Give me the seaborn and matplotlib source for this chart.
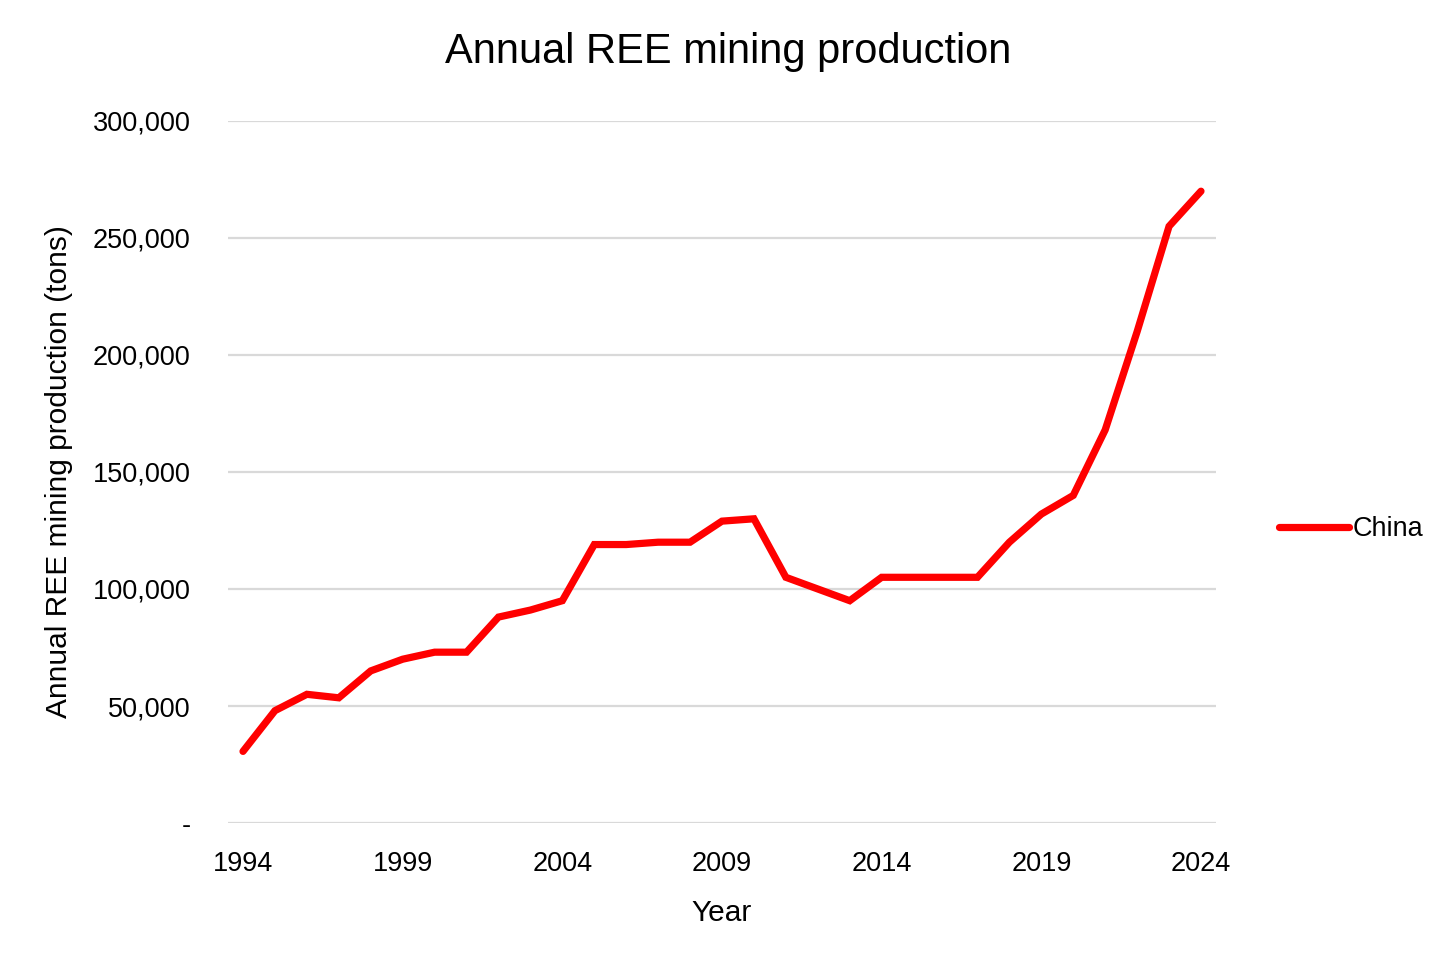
import matplotlib
matplotlib.use("Agg")
import matplotlib.pyplot as plt
import seaborn as sns
import pandas as pd
from matplotlib.ticker import FuncFormatter, MultipleLocator

years = list(range(1994, 2025))
china = [30600, 48000, 55000, 53500, 65000, 70000, 73000, 73000, 88000, 91000,
         95000, 119000, 119000, 120000, 120000, 129000, 130000, 105000, 100000, 95000,
         105000, 105000, 105000, 105000, 120000, 132000, 140000, 168000, 210000, 255000,
         270000]
series_name = "China"

df = pd.DataFrame({"Year": years, "Production": china, "Country": series_name})

sns.set_theme(style="white")
plt.rcParams['font.family'] = ['Liberation Sans', 'DejaVu Sans']
plt.rcParams['text.color'] = 'black'
plt.rcParams['axes.labelcolor'] = 'black'

fig = plt.figure(figsize=(14.56, 9.71), dpi=100)
ax = fig.add_axes([228/1456, 1-823/971, (1216-228)/1456, (823-121)/971])

sns.lineplot(data=df, x="Year", y="Production", hue="Country", palette=["#ff0000"],
             linewidth=5.2, ax=ax, solid_capstyle="round", solid_joinstyle="miter")

ax.set_xlim(1993.53, 2024.47)
ax.set_ylim(0, 300000)
ax.yaxis.set_major_locator(MultipleLocator(50000))
ax.set_xticks([1994, 1999, 2004, 2009, 2014, 2019, 2024])
ax.yaxis.set_major_formatter(FuncFormatter(lambda v, p: "-" if v == 0 else f"{int(v):,}"))
ax.grid(axis="y", color="#d9d9d9", linewidth=1.6)
ax.grid(axis="x", visible=False)
ax.set_axisbelow(True)
for s in ax.spines.values():
    s.set_visible(False)
ax.tick_params(axis="both", length=0, labelsize=19.5, colors="black")
ax.tick_params(axis="y", pad=27)
ax.tick_params(axis="x", pad=20)

ax.set_xlabel("Year", fontsize=21.5, labelpad=16, color="black")
ax.set_ylabel("Annual REE mining production (tons)", fontsize=21.5, labelpad=14, color="black")
fig.text(0.5, 1-52/971, "Annual REE mining production", ha="center", va="center",
         fontsize=30, color="black")

leg = ax.legend(loc="center left", bbox_to_anchor=(1268/1456, 1-529/971), bbox_transform=fig.transFigure,
                frameon=False, fontsize=19.5, handlelength=2.6, handletextpad=0.12, borderaxespad=0)
for line in leg.get_lines():
    line.set_linewidth(5.2)
for t in leg.get_texts():
    t.set_color("black")

fig.savefig("out.png", dpi=100, facecolor="white")
